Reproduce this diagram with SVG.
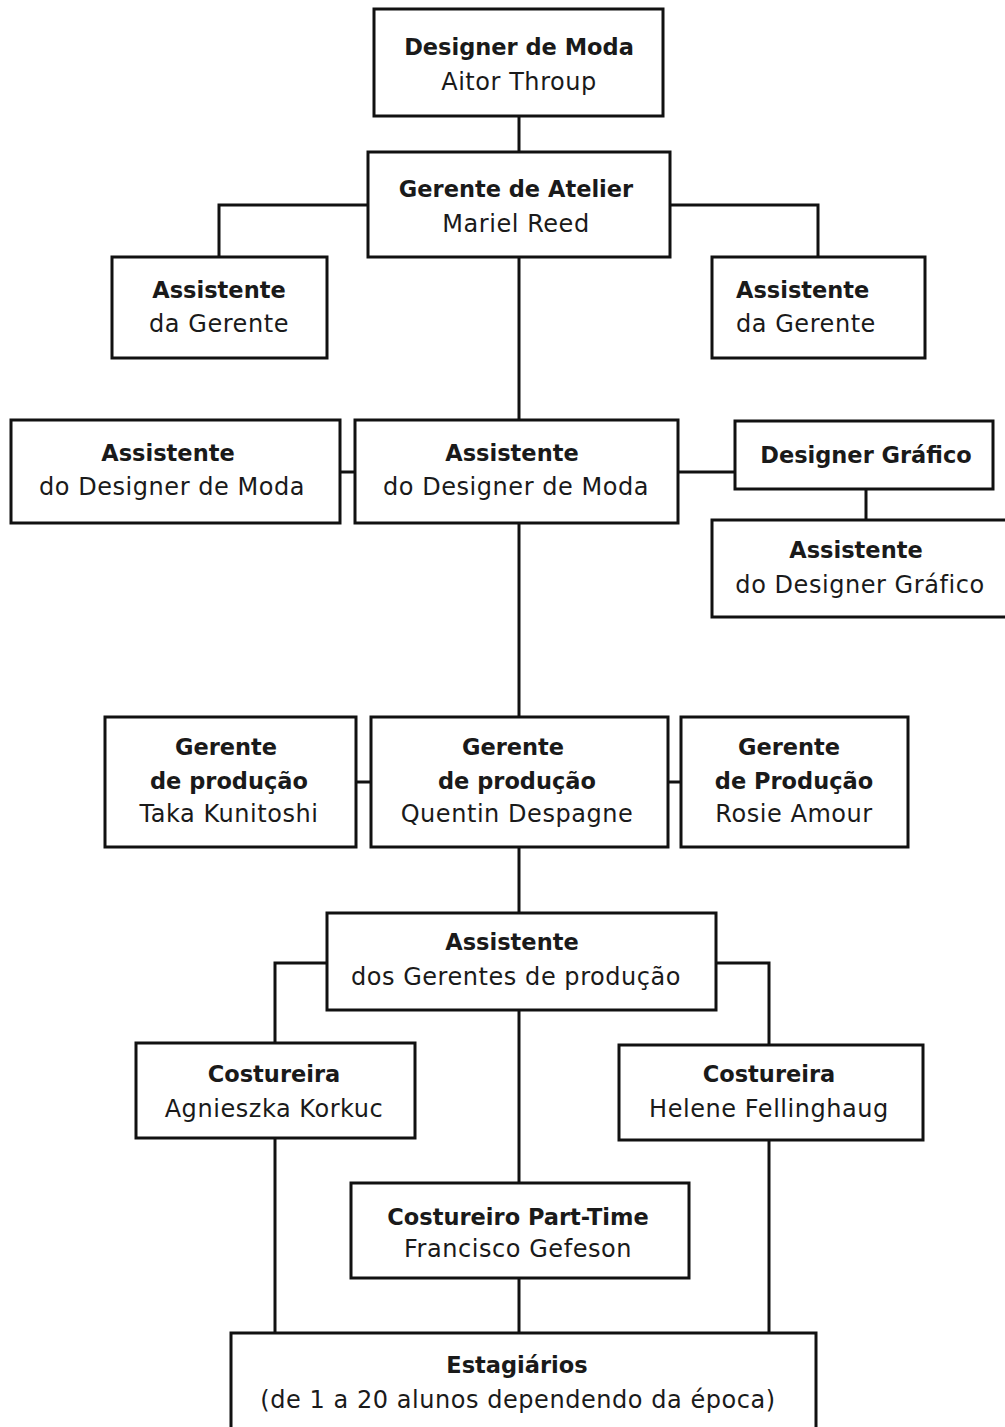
<svg xmlns="http://www.w3.org/2000/svg" width="1005" height="1427" viewBox="0 0 1005 1427">
<style>
.box{fill:#fff;stroke:#111;stroke-width:3}
.c{fill:none;stroke:#111;stroke-width:3}
text{font-family:"DejaVu Sans","Verdana",sans-serif;fill:#1a1a1a;text-anchor:middle}
.b{font-weight:bold;font-size:22.5px}
.r{font-size:24px;letter-spacing:0.55px}
.l{text-anchor:start}
</style>
<rect width="1005" height="1427" fill="#fff"/>
<g id="connectors">
<path class="c" d="M519 116V152"/>
<path class="c" d="M368 205H219V257"/>
<path class="c" d="M670 205H818V257"/>
<path class="c" d="M519 257V420"/>
<path class="c" d="M340 472H355"/>
<path class="c" d="M678 472H735"/>
<path class="c" d="M866 489V520"/>
<path class="c" d="M519 523V717"/>
<path class="c" d="M356 782H371"/>
<path class="c" d="M668 782H681"/>
<path class="c" d="M519 847V913"/>
<path class="c" d="M327 963H275V1043"/>
<path class="c" d="M716 963H769V1045"/>
<path class="c" d="M519 1010V1183"/>
<path class="c" d="M275 1138V1333"/>
<path class="c" d="M769 1140V1333"/>
<path class="c" d="M519 1278V1333"/>
</g>
<g id="designer-moda">
<rect class="box" x="374" y="9" width="289" height="107"/>
<text class="b" x="519" y="55">Designer de Moda</text>
<text class="r" x="519" y="90">Aitor Throup</text>
</g>
<g id="gerente-atelier">
<rect class="box" x="368" y="152" width="302" height="105"/>
<text class="b" x="516" y="197">Gerente de Atelier</text>
<text class="r" x="516" y="232">Mariel Reed</text>
</g>
<g id="assistente-gerente-1">
<rect class="box" x="112" y="257" width="215" height="101"/>
<text class="b" x="219" y="298">Assistente</text>
<text class="r" x="219" y="332">da Gerente</text>
</g>
<g id="assistente-gerente-2">
<rect class="box" x="712" y="257" width="213" height="101"/>
<text class="b l" x="736" y="298">Assistente</text>
<text class="r l" x="736" y="332">da Gerente</text>
</g>
<g id="assistente-designer-1">
<rect class="box" x="11" y="420" width="329" height="103"/>
<text class="b" x="168" y="461">Assistente</text>
<text class="r" x="172" y="495">do Designer de Moda</text>
</g>
<g id="assistente-designer-2">
<rect class="box" x="355" y="420" width="323" height="103"/>
<text class="b" x="512" y="461">Assistente</text>
<text class="r" x="516" y="495">do Designer de Moda</text>
</g>
<g id="designer-grafico">
<rect class="box" x="735" y="421" width="258" height="68"/>
<text class="b" x="866" y="463">Designer Gráfico</text>
</g>
<g id="assistente-designer-grafico">
<rect class="box" x="712" y="520" width="310" height="97"/>
<text class="b" x="856" y="558">Assistente</text>
<text class="r" x="860" y="593">do Designer Gráfico</text>
</g>
<g id="gerente-producao-1">
<rect class="box" x="105" y="717" width="251" height="130"/>
<text class="b" x="226" y="755">Gerente</text>
<text class="b" x="229" y="789">de produção</text>
<text class="r" x="229" y="822">Taka Kunitoshi</text>
</g>
<g id="gerente-producao-2">
<rect class="box" x="371" y="717" width="297" height="130"/>
<text class="b" x="513" y="755">Gerente</text>
<text class="b" x="517" y="789">de produção</text>
<text class="r" x="517" y="822">Quentin Despagne</text>
</g>
<g id="gerente-producao-3">
<rect class="box" x="681" y="717" width="227" height="130"/>
<text class="b" x="789" y="755">Gerente</text>
<text class="b" x="794" y="789">de Produção</text>
<text class="r" x="794" y="822">Rosie Amour</text>
</g>
<g id="assistente-gerentes">
<rect class="box" x="327" y="913" width="389" height="97"/>
<text class="b" x="512" y="950">Assistente</text>
<text class="r" x="516" y="985">dos Gerentes de produção</text>
</g>
<g id="costureira-1">
<rect class="box" x="136" y="1043" width="279" height="95"/>
<text class="b" x="274" y="1082">Costureira</text>
<text class="r" x="274" y="1117">Agnieszka Korkuc</text>
</g>
<g id="costureira-2">
<rect class="box" x="619" y="1045" width="304" height="95"/>
<text class="b" x="769" y="1082">Costureira</text>
<text class="r" x="769" y="1117">Helene Fellinghaug</text>
</g>
<g id="costureiro-part-time">
<rect class="box" x="351" y="1183" width="338" height="95"/>
<text class="b" x="518" y="1225">Costureiro Part-Time</text>
<text class="r" x="518" y="1257">Francisco Gefeson</text>
</g>
<g id="estagiarios">
<rect class="box" x="231" y="1333" width="585" height="110"/>
<text class="b" x="517" y="1373">Estagiários</text>
<text class="r" x="518" y="1408">(de 1 a 20 alunos dependendo da época)</text>
</g>
</svg>
